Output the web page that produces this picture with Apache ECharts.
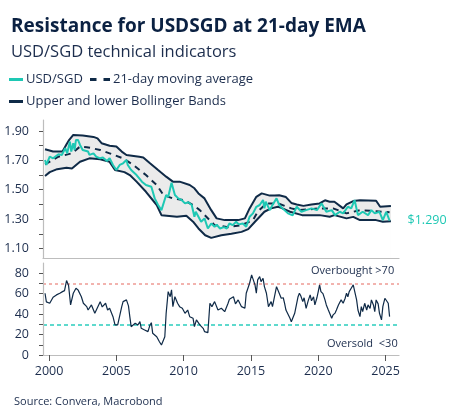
<!DOCTYPE html>
<html>
<head>
<meta charset="utf-8">
<script src="https://cdn.jsdelivr.net/npm/echarts@6/dist/echarts.min.js"></script>
<style>
html,body{margin:0;padding:0;background:#fff;}
#chart{width:453px;height:417px;}
</style>
</head>
<body>
<div id="chart"></div>
<script>
// ---- Data (year, value) ----
const spot = [
[1999.7,1.703],[1999.8,1.669],[2000.05,1.725],[2000.3,1.714],[2000.7,1.741],[2000.95,1.737],
[2001.2,1.783],[2001.35,1.748],[2001.55,1.828],[2001.65,1.76],[2001.8,1.817],[2001.9,1.771],
[2002.0,1.839],[2002.15,1.839],[2002.3,1.805],[2002.5,1.771],[2002.9,1.76],[2003.0,1.737],
[2003.3,1.748],[2003.5,1.725],[2003.8,1.714],[2004.0,1.72],[2004.3,1.696],[2004.5,1.714],
[2004.75,1.669],[2005.0,1.634],[2005.25,1.669],[2005.5,1.68],[2005.75,1.703],[2005.85,1.669],
[2006.1,1.634],[2006.5,1.60],[2006.9,1.555],[2007.2,1.532],[2007.6,1.52],[2007.85,1.441],
[2008.1,1.396],[2008.35,1.361],[2008.7,1.464],[2008.85,1.45],[2009.1,1.548],[2009.35,1.464],
[2009.6,1.441],[2009.85,1.43],[2010.1,1.407],[2010.35,1.415],[2010.6,1.396],[2010.8,1.316],
[2010.9,1.35],[2011.3,1.282],[2011.55,1.305],[2011.8,1.236],[2012.05,1.27],[2012.3,1.248],
[2012.45,1.262],[2012.7,1.236],[2013.0,1.245],[2013.2,1.236],[2013.4,1.27],[2013.65,1.259],
[2013.9,1.282],[2014.1,1.264],[2014.4,1.27],[2014.65,1.248],[2014.9,1.316],[2015.15,1.339],
[2015.4,1.384],[2015.65,1.396],[2015.9,1.43],[2016.0,1.373],[2016.1,1.418],[2016.4,1.361],
[2016.6,1.396],[2016.9,1.441],[2017.1,1.396],[2017.35,1.373],[2017.75,1.339],[2018.1,1.325],
[2018.4,1.384],[2018.75,1.35],[2019.1,1.361],[2019.5,1.373],[2019.9,1.361],[2020.25,1.407],
[2020.6,1.35],[2021.0,1.361],[2021.25,1.327],[2021.6,1.35],[2021.85,1.339],[2022.2,1.384],
[2022.45,1.373],[2022.7,1.43],[2022.95,1.327],[2023.3,1.35],[2023.7,1.327],[2023.95,1.361],
[2024.2,1.339],[2024.55,1.35],[2024.8,1.293],[2025.05,1.35],[2025.3,1.29]
];
const movingAvg = [
[1999.7,1.673],[2000.7,1.725],[2001.7,1.748],[2002.3,1.794],[2002.8,1.79],[2003.8,1.771],
[2004.5,1.748],[2005.5,1.714],[2006.25,1.669],[2007.2,1.60],[2008.0,1.532],[2008.5,1.464],
[2009.2,1.441],[2010.0,1.43],[2010.7,1.396],[2011.2,1.361],[2012.3,1.259],[2013.3,1.245],
[2014.3,1.259],[2015.15,1.293],[2015.5,1.35],[2016.15,1.407],[2017.0,1.407],[2018.0,1.373],
[2018.6,1.361],[2020.1,1.373],[2021.1,1.373],[2022.1,1.339],[2023.1,1.361],[2024.3,1.354],
[2025.3,1.346]
];
const upperBand = [
[1999.7,1.776],[2000.3,1.76],[2001.0,1.76],[2001.3,1.81],[2001.5,1.84],[2001.8,1.873],
[2002.5,1.869],[2003.3,1.86],[2003.6,1.85],[2003.9,1.817],[2004.5,1.80],[2005.0,1.794],
[2005.4,1.76],[2005.75,1.737],[2006.7,1.725],[2007.0,1.72],[2007.5,1.68],[2008.1,1.634],
[2008.7,1.589],[2009.2,1.555],[2009.7,1.555],[2010.45,1.532],[2010.8,1.51],[2011.1,1.475],
[2011.55,1.441],[2012.05,1.361],[2012.45,1.305],[2013.05,1.293],[2014.05,1.293],[2014.55,1.305],
[2014.9,1.373],[2015.4,1.452],[2015.8,1.475],[2016.4,1.46],[2016.75,1.46],[2017.1,1.462],
[2017.6,1.45],[2018.0,1.41],[2018.4,1.40],[2018.9,1.39],[2019.5,1.40],[2020.1,1.407],
[2020.5,1.428],[2020.85,1.418],[2021.2,1.418],[2021.85,1.373],[2022.1,1.40],[2022.6,1.423],
[2023.1,1.428],[2024.3,1.425],[2024.6,1.384],[2025.4,1.39]
];
const lowerBand = [
[1999.7,1.594],[2000.05,1.62],[2000.6,1.64],[2001.3,1.65],[2001.7,1.645],[2002.3,1.691],
[2003.0,1.714],[2003.8,1.707],[2004.5,1.69],[2004.9,1.634],[2005.6,1.62],[2006.0,1.60],
[2006.5,1.555],[2007.2,1.486],[2008.0,1.396],[2008.35,1.327],[2009.5,1.316],[2010.2,1.322],
[2010.7,1.282],[2011.1,1.236],[2011.6,1.19],[2012.05,1.172],[2012.8,1.19],[2013.55,1.20],
[2014.3,1.213],[2014.8,1.232],[2015.3,1.282],[2015.65,1.316],[2016.0,1.35],[2016.5,1.373],
[2017.0,1.384],[2017.25,1.377],[2017.9,1.35],[2018.8,1.327],[2020.1,1.327],[2020.85,1.316],
[2021.2,1.327],[2022.1,1.305],[2022.6,1.315],[2023.1,1.293],[2024.3,1.293],[2024.8,1.282],
[2025.4,1.286]
];
const rsi = [
[1999.7,60.4],[1999.8,52],[2000.05,50.6],[2000.3,56.5],[2000.55,58.8],[2000.8,60.4],[2001.0,62],
[2001.15,63],[2001.3,72.8],[2001.45,68],[2001.6,49],[2001.8,60.4],[2002.0,65.3],[2002.15,63.7],
[2002.4,57],[2002.55,50.6],[2002.8,47.3],[2002.9,44],[2003.15,49],[2003.3,44],[2003.4,40.8],
[2003.8,52.2],[2003.95,47],[2004.2,50.6],[2004.35,44],[2004.5,45.7],[2004.75,37.5],[2004.9,29.4],
[2005.1,29.4],[2005.4,47.3],[2005.5,52.2],[2005.75,53.9],[2005.9,48],[2006.0,37.5],[2006.1,27.7],
[2006.4,31],[2006.6,29.4],[2006.75,32.6],[2006.85,26.1],[2007.1,24.5],[2007.35,22.9],[2007.5,29.4],
[2007.6,31.6],[2007.7,21.2],[2008.0,17.9],[2008.2,13],[2008.35,9.8],[2008.45,13],[2008.6,17.9],
[2008.7,40.8],[2008.85,62],[2009.0,57],[2009.1,63.7],[2009.2,47.3],[2009.35,57],[2009.55,50.6],
[2009.7,47.3],[2009.9,45.7],[2010.1,40.8],[2010.3,44],[2010.45,37.5],[2010.7,35.9],[2010.8,27.7],
[2010.95,34.3],[2011.2,29.4],[2011.45,26.1],[2011.55,22.9],[2011.8,21.9],[2011.95,50.6],[2012.1,47.3],
[2012.3,52.2],[2012.55,44],[2012.8,45.7],[2013.05,42.4],[2013.3,50.6],[2013.4,54.5],[2013.7,57],
[2013.85,50],[2014.05,53.9],[2014.3,47.3],[2014.55,45.7],[2014.65,60.4],[2014.9,70.2],[2015.05,78.4],
[2015.15,80],[2015.3,68.6],[2015.4,60.4],[2015.5,73.5],[2015.65,76.7],[2015.75,71.8],[2015.9,75.1],
[2016.0,66.9],[2016.15,60.4],[2016.3,47.3],[2016.4,45.7],[2016.5,52.2],[2016.6,47.3],[2016.75,57],
[2016.9,66.9],[2017.0,68.6],[2017.1,60.4],[2017.25,55.5],[2017.4,56],[2017.5,50.6],[2017.6,44],
[2017.7,42.4],[2017.9,35.9],[2018.0,32.6],[2018.1,31],[2018.25,40.8],[2018.5,57],[2018.6,60.4],
[2018.7,58],[2018.85,52.2],[2018.95,56],[2019.1,45.7],[2019.25,53],[2019.4,58.8],[2019.5,53],
[2019.65,57],[2019.75,49],[2019.9,56],[2020.0,62],[2020.1,68.6],[2020.2,62],[2020.35,60],
[2020.5,53.9],[2020.6,49],[2020.75,44],[2020.85,40.8],[2021.0,35.9],[2021.1,39.2],[2021.25,41],
[2021.35,44],[2021.5,49],[2021.6,50.6],[2021.7,53.9],[2021.85,50.6],[2022.0,55.5],[2022.1,60.4],
[2022.2,57],[2022.3,62],[2022.45,65.3],[2022.6,68.6],[2022.66,70.2],[2022.85,53.9],[2022.95,44],
[2023.1,37.5],[2023.2,47.3],[2023.3,42.4],[2023.45,50.6],[2023.6,44],[2023.7,49],[2023.85,45.5],
[2023.95,53.9],[2024.1,49],[2024.2,42.4],[2024.3,53.9],[2024.45,50],[2024.55,40.8],[2024.7,34.3],
[2024.8,47.3],[2024.95,55.5],[2025.05,53.9],[2025.2,50.6],[2025.3,37.5]
];
const overbought = 70;
const oversold = 30;
const priceLabelTicks = [1.1,1.3,1.5,1.7,1.9];
const priceMinorTicks = [1.1,1.2,1.3,1.4,1.5,1.6,1.7,1.8,1.9];
const rsiLabelTicks = [0,20,40,60,80];
const rsiMinorTicks = [0,10,20,30,40,50,60,70,80];
const yearTicks = [2000,2005,2010,2015,2020,2025];
const lastPriceLabel = '$1.290';

// ---- Styles ----
const FONT = '"Open Sans", "Noto Sans", sans-serif';
const NAVY = '#0f2a47';
const TEAL = '#1ec8b4';
const TXT = '#1c2d4d';
const AX = '#bdbdbd';
const solidIcon = 'path://M0,0H14V3H0Z';
const dashIcon = 'path://M0,0H6.5V3H0Z M13.5,0H20V3H13.5Z';

const chart = echarts.init(document.getElementById('chart'), null, {renderer: 'canvas'});
const xCommon = {type:'value', min:1999.55, max:2026.0};
const legendText = {fontFamily:FONT, fontSize:13, color:TXT, padding:[0,0,0,-2]};

chart.setOption({
  animation:false,
  backgroundColor:'#fff',
  textStyle:{fontFamily:FONT},
  title:[
    {text:'Resistance for USDSGD at 21-day EMA', left:6, top:10,
     textStyle:{fontFamily:FONT, fontSize:19, fontWeight:'bold', color:'#0b2142', lineHeight:24}},
    {text:'USD/SGD technical indicators', left:6, top:36,
     textStyle:{fontFamily:FONT, fontSize:16.5, fontWeight:'normal', color:TXT, lineHeight:22}},
    {text:'Source: Convera, Macrobond', left:9, top:389,
     textStyle:{fontFamily:FONT, fontSize:11, fontWeight:'normal', color:TXT, lineHeight:16}}
  ],
  legend:[
    {data:[{name:'USD/SGD', icon:solidIcon}], left:9, top:73, itemWidth:14, itemHeight:3, padding:0,
     textStyle:legendText},
    {data:[{name:'21-day moving average', icon:dashIcon}], left:90, top:73, itemWidth:20, itemHeight:3, padding:0,
     textStyle:legendText},
    {data:[{name:'Upper and lower Bollinger Bands', icon:solidIcon}], left:9, top:95, itemWidth:14, itemHeight:3, padding:0,
     textStyle:legendText}
  ],
  grid:[
    {left:43, right:54, top:120, height:138},
    {left:43, right:54, top:263, height:92}
  ],
  xAxis:[
    Object.assign({gridIndex:0, z:10, axisLine:{show:true, lineStyle:{color:AX, width:1.2}},
      axisTick:{show:false}, axisLabel:{show:false}, splitLine:{show:false}}, xCommon),
    Object.assign({gridIndex:1, z:10, axisLine:{show:true, lineStyle:{color:AX, width:1.2}},
      axisTick:{show:true, length:6, lineStyle:{color:'#555'}, customValues:yearTicks},
      axisLabel:{show:true, customValues:yearTicks, margin:10, fontFamily:FONT, fontSize:12.5, color:TXT,
        formatter:v=>String(Math.round(v))},
      splitLine:{show:false}}, xCommon)
  ],
  yAxis:[
    {type:'value', gridIndex:0, min:1.035, max:1.975, z:10,
     axisLine:{show:true, lineStyle:{color:AX, width:1.2}},
     axisTick:{show:true, length:4, lineStyle:{color:'#555'}, customValues:priceMinorTicks},
     axisLabel:{show:true, customValues:priceLabelTicks, margin:14, fontFamily:FONT, fontSize:12.5, color:TXT,
       formatter:v=>v.toFixed(2)},
     splitLine:{show:false}},
    {type:'value', gridIndex:1, min:0, max:90, z:10,
     axisLine:{show:true, lineStyle:{color:AX, width:1.2}},
     axisTick:{show:true, length:4, lineStyle:{color:'#555'}, customValues:rsiMinorTicks},
     axisLabel:{show:true, customValues:rsiLabelTicks, margin:14, fontFamily:FONT, fontSize:12.5, color:TXT},
     splitLine:{show:false}}
  ],
  series:[
    {name:'Upper and lower Bollinger Bands', type:'line', xAxisIndex:0, yAxisIndex:0, data:upperBand,
     symbol:'none', z:3, lineStyle:{color:NAVY, width:2}, itemStyle:{color:NAVY},
     areaStyle:{color:'#ebebeb', opacity:1, origin:'start'}},
    {name:'Upper and lower Bollinger Bands', type:'line', xAxisIndex:0, yAxisIndex:0, data:lowerBand,
     symbol:'none', z:4, lineStyle:{color:NAVY, width:2}, itemStyle:{color:NAVY},
     areaStyle:{color:'#ffffff', opacity:1, origin:'start'}},
    {name:'21-day moving average', type:'line', xAxisIndex:0, yAxisIndex:0, data:movingAvg,
     symbol:'none', z:5, lineStyle:{color:NAVY, width:2, type:[6,5]}, itemStyle:{color:NAVY}},
    {name:'USD/SGD', type:'line', xAxisIndex:0, yAxisIndex:0, data:spot,
     symbol:'none', z:6, lineStyle:{color:TEAL, width:2}, itemStyle:{color:TEAL},
     endLabel:{show:true, formatter:lastPriceLabel, distance:18, color:TEAL, fontFamily:FONT, fontSize:12.5}},
    {name:'RSI', type:'line', xAxisIndex:1, yAxisIndex:1, data:rsi,
     symbol:'none', z:5, lineStyle:{color:NAVY, width:1.2}, itemStyle:{color:NAVY},
     markLine:{silent:true, symbol:'none', label:{show:false}, animation:false,
       data:[
         {yAxis:overbought, lineStyle:{color:'#ee9a94', type:[3,3], width:1.5}},
         {yAxis:oversold, lineStyle:{color:'#2bcdbd', type:[4,3], width:1.5}}
       ]}}
  ],
  graphic:[
    {type:'text', left:311, top:265, style:{text:'Overbought >70', font:'11px '+FONT, fill:TXT}},
    {type:'text', left:327, top:338, style:{text:'Oversold  <30', font:'11px '+FONT, fill:TXT}}
  ]
});
</script>
</body>
</html>
